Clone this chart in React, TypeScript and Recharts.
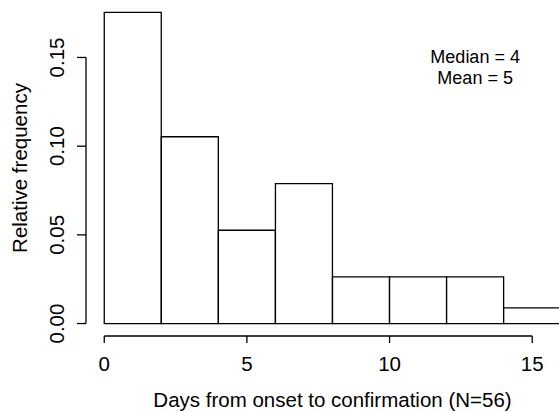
import React from "react";
import {
  ComposedChart,
  Bar,
  XAxis,
  YAxis,
  ReferenceLine,
  ReferenceDot,
} from "recharts";

// Histogram bins: midpoint (days) and relative frequency
const binMids = [1, 3, 5, 7, 9, 11, 13, 15];
const relFreq = [0.1754, 0.1053, 0.0526, 0.0789, 0.0263, 0.0263, 0.0263, 0.0088];
const xTicks = [0, 5, 10, 15];
const yTicks = [0, 0.05, 0.1, 0.15];
const annotationLines = ["Median = 4", "Mean = 5"];
const xTitle = "Days from onset to confirmation (N=56)";
const yTitle = "Relative frequency";

const data = binMids.map((m, i) => ({ mid: m, freq: relFreq[i] }));

const FONT = "'Liberation Sans', Arial, Helvetica, sans-serif";
const FS = 20.5;

const XTick = (props: any) => {
  const { x, y, payload } = props;
  return (
    <text x={x} y={y + 26} textAnchor="middle" fontSize={FS} fontFamily={FONT} fill="#000">
      {payload.value}
    </text>
  );
};

const YTick = (props: any) => {
  const { x, y, payload } = props;
  return (
    <text
      transform={`translate(${x - 11},${y}) rotate(-90)`}
      textAnchor="middle"
      fontSize={FS}
      fontFamily={FONT}
      fill="#000"
    >
      {Number(payload.value).toFixed(2)}
    </text>
  );
};

const Annotation = (props: any) => {
  const { cx, cy } = props;
  return (
    <g>
      <text x={cx} y={cy - 3} textAnchor="middle" fontSize={18} fontFamily={FONT} fill="#000">
        {annotationLines[0]}
      </text>
      <text x={cx} y={cy + 17.5} textAnchor="middle" fontSize={18} fontFamily={FONT} fill="#000">
        {annotationLines[1]}
      </text>
    </g>
  );
};

export default function App() {
  const W = 579;
  const H = 412;
  return (
    <div
      style={{
        position: "absolute",
        left: 0,
        top: 0,
        width: 559,
        height: 412,
        overflow: "hidden",
        background: "#fff",
      }}
    >
      <ComposedChart
        width={W}
        height={H}
        data={data}
        margin={{ top: 0, right: 0, bottom: 0, left: 0 }}
        barCategoryGap={0}
        barGap={0}
      >
        <XAxis
          type="number"
          dataKey="mid"
          domain={[-0.64, 16.64]}
          allowDataOverflow
          ticks={xTicks}
          interval={0}
          axisLine={false}
          tickLine={{ stroke: "#000", strokeWidth: 1.3 }}
          tickSize={7}
          tick={<XTick />}
          height={76}
          label={{
            content: (p: any) => {
              const vb = p.viewBox;
              return (
                <text
                  x={vb.x + vb.width / 2}
                  y={407}
                  textAnchor="middle"
                  fontSize={FS}
                  fontFamily={FONT}
                  fill="#000"
                >
                  {xTitle}
                </text>
              );
            },
          }}
        />
        <YAxis
          type="number"
          domain={[-0.00702, 0.1824]}
          allowDataOverflow
          ticks={yTicks}
          interval={0}
          axisLine={false}
          tickLine={{ stroke: "#000", strokeWidth: 1.3 }}
          tickSize={9}
          tick={<YTick />}
          width={86}
          label={{
            content: (p: any) => {
              const vb = p.viewBox;
              return (
                <text
                  transform={`translate(27,${vb.y + vb.height / 2}) rotate(-90)`}
                  textAnchor="middle"
                  fontSize={FS}
                  fontFamily={FONT}
                  fill="#000"
                >
                  {yTitle}
                </text>
              );
            },
          }}
        />
        <Bar
          dataKey="freq"
          fill="#fff"
          stroke="#000"
          strokeWidth={1.3}
          isAnimationActive={false}
        />
        <ReferenceLine
          segment={[
            { x: 0, y: -0.00702 },
            { x: 15, y: -0.00702 },
          ]}
          stroke="#000"
          strokeWidth={1.3}
          ifOverflow="visible"
        />
        <ReferenceLine
          segment={[
            { x: -0.64, y: 0 },
            { x: -0.64, y: 0.15 },
          ]}
          stroke="#000"
          strokeWidth={1.3}
          ifOverflow="visible"
        />
        <ReferenceDot
          x={13}
          y={0.145}
          r={0}
          ifOverflow="visible"
          shape={<Annotation />}
        />
      </ComposedChart>
    </div>
  );
}
